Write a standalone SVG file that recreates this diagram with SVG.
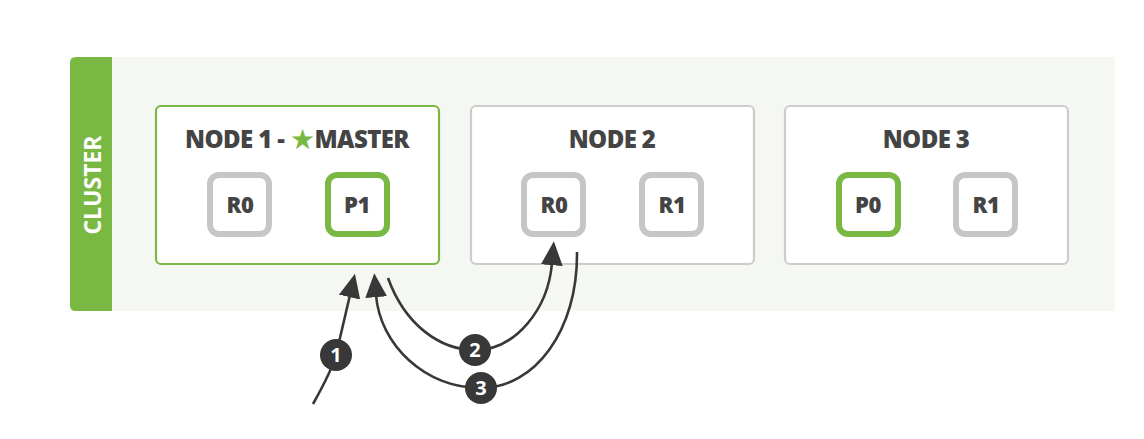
<svg xmlns="http://www.w3.org/2000/svg" width="1144" height="439" viewBox="0 0 1144 439">
<style>
.node{fill:#ffffff;stroke:#cccccc;stroke-width:2.2}
.node.master{stroke:#78b843}
.title{font-family:"Open Sans","Liberation Sans",sans-serif;font-weight:800;font-size:24px;fill:#444444;text-anchor:middle;letter-spacing:-0.6px}
.shard{fill:#ffffff;stroke:#c6c6c6;stroke-width:6}
.shard.primary{stroke:#78b843}
.slabel{font-family:"Open Sans","Liberation Sans",sans-serif;font-weight:800;font-size:22px;fill:#444444;text-anchor:middle;letter-spacing:-0.5px}
.conn{fill:none;stroke:#383838;stroke-width:2.6}
.badge{fill:#383838}
.num{font-family:"Open Sans","Liberation Sans",sans-serif;font-weight:bold;font-size:20px;fill:#ffffff;text-anchor:middle}
</style>
<defs>
<marker id="ah" markerUnits="userSpaceOnUse" markerWidth="24" markerHeight="24" refX="2" refY="10" orient="auto" viewBox="0 0 22 20">
<path d="M0,0 L22,10 L0,20 Z" fill="#383838"/>
</marker>
</defs>
<rect width="1144" height="439" fill="#ffffff"/>
<g id="cluster">
<rect x="70" y="57" width="1045" height="254" fill="#f5f7f2"/>
<path d="M112,57 V311 H76 Q70,311 70,305 V63 Q70,57 76,57 Z" fill="#78b843"/>
<text transform="translate(101,185) rotate(-90)" font-family="'Open Sans','Liberation Sans',sans-serif" font-weight="bold" font-size="23" fill="#ffffff" text-anchor="middle">CLUSTER</text>
</g>
<g id="node1">
<rect class="node master" x="156" y="106" width="283" height="158" rx="5"/>
<text class="title" x="297" y="148">NODE 1 - <tspan fill="#78b843" font-family="'DejaVu Sans',sans-serif" font-size="28" dy="1">★</tspan><tspan dy="-1">MASTER</tspan></text>
<g id="node1-r0"><rect class="shard" x="210" y="175" width="59" height="59" rx="9"/><text class="slabel" x="240" y="213">R0</text></g>
<g id="node1-p1"><rect class="shard primary" x="328" y="175" width="59" height="59" rx="9"/><text class="slabel" x="357" y="213">P1</text></g>
</g>
<g id="node2">
<rect class="node" x="471" y="106" width="283" height="158" rx="5"/>
<text class="title" x="612" y="148">NODE 2</text>
<g id="node2-r0"><rect class="shard" x="524" y="175" width="59" height="59" rx="9"/><text class="slabel" x="554" y="213">R0</text></g>
<g id="node2-r1"><rect class="shard" x="642" y="175" width="59" height="59" rx="9"/><text class="slabel" x="672" y="213">R1</text></g>
</g>
<g id="node3">
<rect class="node" x="785" y="106" width="283" height="158" rx="5"/>
<text class="title" x="926" y="148">NODE 3</text>
<g id="node3-p0"><rect class="shard primary" x="839" y="175" width="59" height="59" rx="9"/><text class="slabel" x="868" y="213">P0</text></g>
<g id="node3-r1"><rect class="shard" x="956" y="175" width="59" height="59" rx="9"/><text class="slabel" x="986" y="213">R1</text></g>
</g>
<g id="connectors">
<path class="conn" d="M313,404 Q332,370 336,355 Q343,325 350,295" marker-end="url(#ah)"/>
<path class="conn" d="M388,278 C405,325 440,350 475,350 C515,350 548,310 552,263" marker-end="url(#ah)"/>
<path class="conn" d="M577,252 C578,330 535,388 481,388 C425,388 380,345 376,295" marker-end="url(#ah)"/>
</g>
<g id="badge1"><circle class="badge" cx="336" cy="355" r="16"/><text class="num" x="336" y="362">1</text></g>
<g id="badge2"><circle class="badge" cx="475" cy="350" r="16"/><text class="num" x="475" y="357">2</text></g>
<g id="badge3"><circle class="badge" cx="481" cy="388" r="16"/><text class="num" x="481" y="395">3</text></g>
</svg>
